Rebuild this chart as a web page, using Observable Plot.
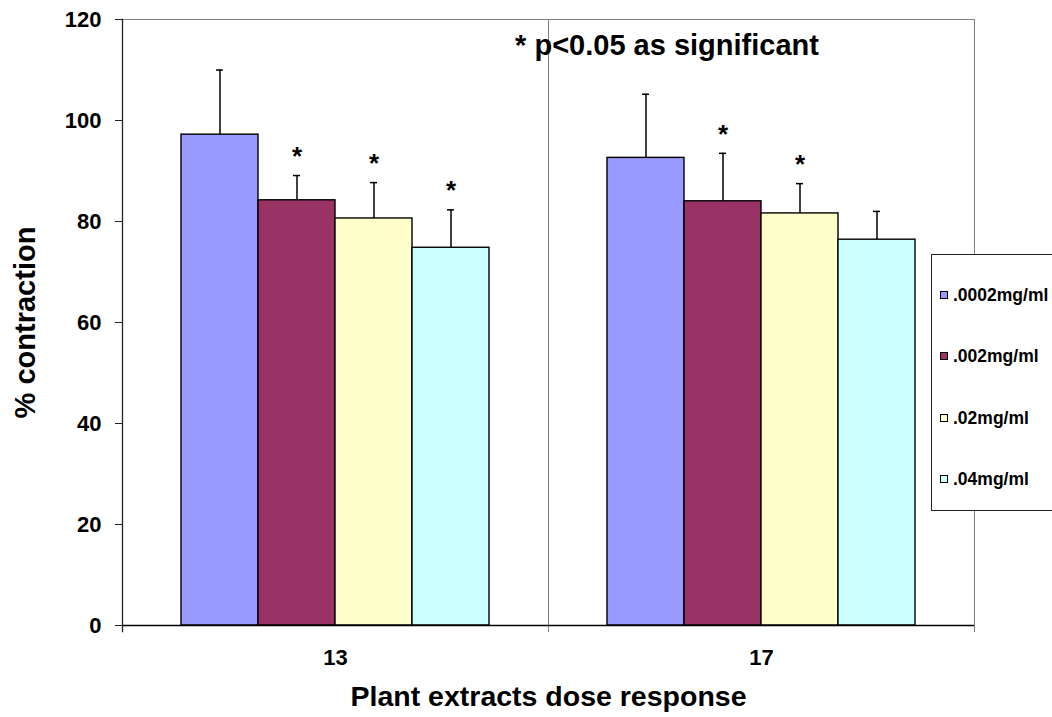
<!DOCTYPE html>
<html><head><meta charset="utf-8">
<script src="https://cdn.jsdelivr.net/npm/d3@7"></script>
<script src="https://cdn.jsdelivr.net/npm/@observablehq/plot@0.6"></script>
<style>
html,body{margin:0;padding:0;background:#fff;overflow:hidden;}
#wrap{position:relative;width:1052px;height:717px;font-family:"Liberation Sans",Arial,sans-serif;}
#wrap svg{position:absolute;left:0;top:0;}
.title{position:absolute;left:667px;top:31px;transform:translateX(-50%);font-size:29px;font-weight:bold;line-height:29px;white-space:nowrap;color:#000}
.legend{position:absolute;left:931px;top:254px;width:140px;height:257px;border:1px solid #222;background:#fff;box-sizing:border-box}
.item{position:absolute;left:8px;font-size:17.5px;font-weight:bold;line-height:20px;display:flex;align-items:center;white-space:nowrap;color:#000}
.sw{width:6px;height:6px;border:1px solid #000;margin-right:5px;}
</style>
</head><body>
<div id="wrap"></div>
<script>
const groups = ["13", "17"];
const series = [".0002mg/ml", ".002mg/ml", ".02mg/ml", ".04mg/ml"];
const colors = ["#9999FF", "#993366", "#FFFFCC", "#CCFFFF"];
const means13 = [97.2, 84.2, 80.6, 74.8];
const means17 = [92.6, 84.0, 81.6, 76.4];
const errTop13 = [110.0, 89.1, 87.7, 82.3];
const errTop17 = [105.2, 93.5, 87.5, 82.0];
const sig13 = [false, true, true, true];
const sig17 = [false, true, true, false];
const yTicks = [0, 20, 40, 60, 80, 100, 120];
const titleText = "* p<0.05 as significant";
const xLabel = "Plant extracts dose response";
const yLabel = "% contraction";

const means = [means13, means17];
const tops = [errTop13, errTop17];
const sigs = [sig13, sig17];
const data = [];
groups.forEach((g, gi) => series.forEach((s, si) => data.push({
  group: g, series: s, value: means[gi][si], err: tops[gi][si], sig: sigs[gi][si]
})));

const font = '"Liberation Sans", Arial, sans-serif';
const chart = Plot.plot({
  width: 1052, height: 717,
  marginLeft: 121, marginRight: 78, marginTop: 19, marginBottom: 92,
  style: {fontFamily: font, background: "transparent", color: "#000"},
  fx: {domain: groups, padding: 0, label: null},
  x: {domain: series, paddingInner: 0, paddingOuter: 0.75, axis: null},
  y: {domain: [0, 120]},
  color: {domain: series, range: colors},
  marks: [
    Plot.frame({stroke: "#808080", strokeWidth: 1}),
    Plot.frame({anchor: "left", stroke: "#808080", insetBottom: -6}),
    Plot.frame({anchor: "right", stroke: "#808080", insetBottom: -6}),
    Plot.barY(data, {fx: "group", x: "series", y: "value", fill: "series", stroke: "#000", strokeWidth: 1.4}),
    Plot.ruleX(data, {fx: "group", x: "series", y1: "value", y2: "err", stroke: "#000", strokeWidth: 1.5}),
    Plot.tickY(data, {fx: "group", x: "series", y: "err", insetLeft: 35, insetRight: 35, stroke: "#000", strokeWidth: 1.5}),
    Plot.text(data.filter(d => d.sig), {fx: "group", x: "series", y: "err", text: () => "*", dy: -29, lineAnchor: "top", fontSize: 26, fontWeight: "bold", fill: "#000"}),
    Plot.ruleY([0], {stroke: "#000", strokeWidth: 1.4}),
    Plot.frame({anchor: "left", fx: [groups[0]], stroke: "#222", strokeWidth: 1.3, insetBottom: -6}),
    Plot.axisY({ticks: yTicks, tickSize: 7, tickPadding: 14, fontSize: 22, fontWeight: "bold", label: null, stroke: "#222"}),
    Plot.axisY({ticks: [], label: yLabel, labelAnchor: "center", labelArrow: "none", labelOffset: 108, fontSize: 29, fontWeight: "bold"}),
    Plot.axisFx({anchor: "bottom", tickSize: 0, tickPadding: 24, fontSize: 22, fontWeight: "bold", label: null}),
    Plot.axisFx({anchor: "bottom", ticks: [], label: xLabel, labelAnchor: "center", labelArrow: "none", labelOffset: 80, fontSize: 28.5, fontWeight: "bold"})
  ]
});
const wrap = document.getElementById("wrap");
wrap.appendChild(chart);

const t = document.createElement("div");
t.className = "title";
t.textContent = titleText;
wrap.appendChild(t);

const lg = document.createElement("div");
lg.className = "legend";
series.forEach((s, i) => {
  const it = document.createElement("div");
  it.className = "item";
  it.style.top = (30 + i * 61.3) + "px";
  const sw = document.createElement("span");
  sw.className = "sw";
  sw.style.background = colors[i];
  it.appendChild(sw);
  it.appendChild(document.createTextNode(s));
  lg.appendChild(it);
});
wrap.appendChild(lg);
</script>
</body></html>
